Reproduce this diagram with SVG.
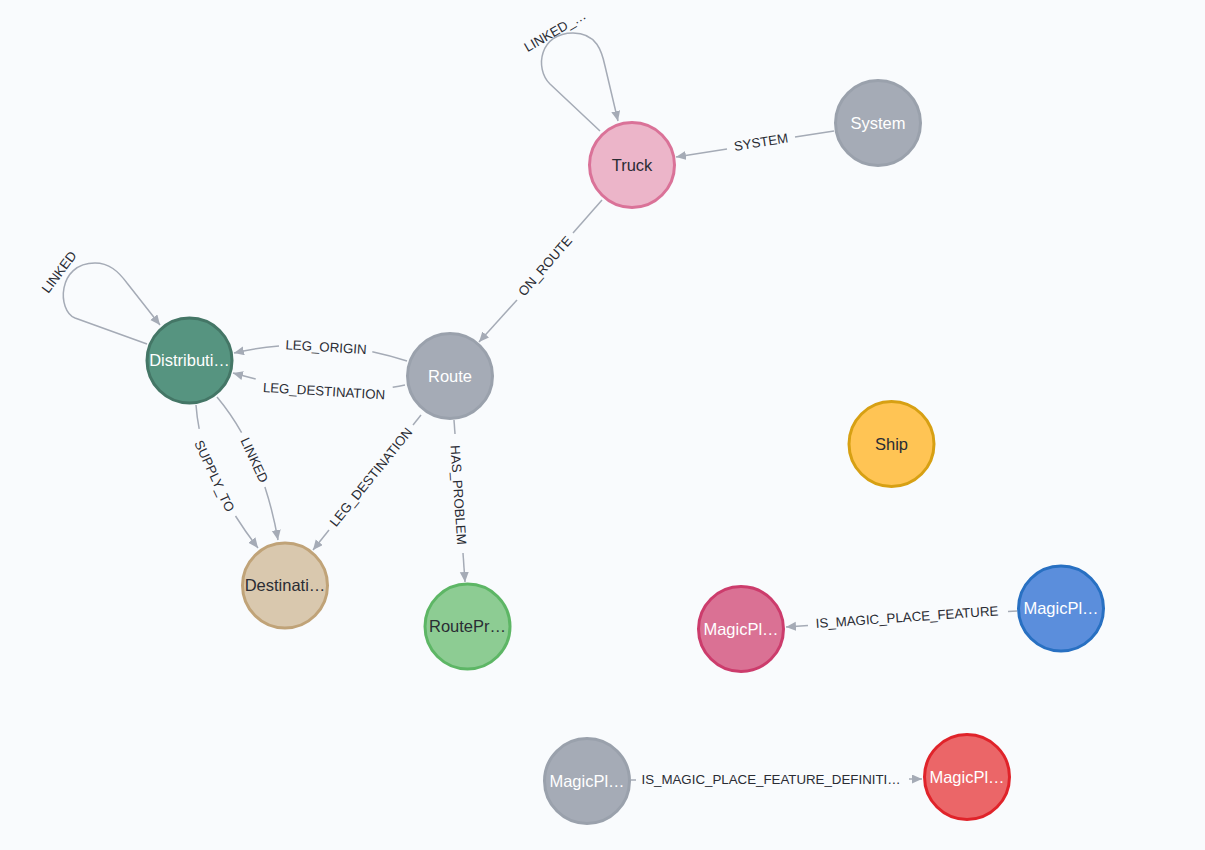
<svg xmlns="http://www.w3.org/2000/svg" width="1205" height="850" viewBox="0 0 1205 850">
<style>
.edge{fill:none;stroke:#A5ABB6;stroke-width:1.5}
.arr{marker-end:url(#ah)}
.el{font-family:"Liberation Sans",Arial,sans-serif;font-size:13.3px;fill:#2A2C34;text-anchor:middle}
.nl{font-family:"Liberation Sans",Arial,sans-serif;font-size:16.5px;text-anchor:middle}
.dark{fill:#2A2C34}
.light{fill:#FFFFFF}
.node circle{stroke-width:3}
</style>
<defs>
<marker id="ah" markerUnits="userSpaceOnUse" markerWidth="11" markerHeight="10" refX="10" refY="4.5" orient="auto" viewBox="0 0 11 10">
<path d="M0,0 L10,4.5 L0,9 Z" fill="#A5ABB6"/>
</marker>
</defs>
<rect width="1205" height="850" fill="#F9FBFD"/>
<g id="connectors">
<!-- Truck self loop -->
<path class="edge arr" d="M600,131 L550,84 C534,68 540,33 573,33 C597,33 602,52 605,66 L618,121"/>
<text class="el" transform="translate(555,31) rotate(-30)" dy="0.35em">LINKED_…</text>
<!-- Distribution self loop -->
<path class="edge arr" d="M147,344 L75,318 C57,311 57,263 95,263 C109,263 118,271 127,283 L160,325"/>
<text class="el" transform="translate(59,272) rotate(-53)" dy="0.35em">LINKED</text>
<!-- System -> Truck -->
<path class="edge" d="M834,131 L795,137"/>
<path class="edge arr" d="M727,149 L676,157"/>
<text class="el" transform="translate(761,142) rotate(-9)" dy="0.35em">SYSTEM</text>
<!-- Truck -> Route -->
<path class="edge" d="M602,200 L573,233"/>
<path class="edge arr" d="M517,300 L479,342"/>
<text class="el" transform="translate(545,266) rotate(-49)" dy="0.35em">ON_ROUTE</text>
<!-- Route -> Distribution LEG_ORIGIN -->
<path class="edge" d="M407,361 Q389.6,355.4 372.3,351.7"/>
<path class="edge arr" d="M279,346 Q256,348 234,353"/>
<text class="el" transform="translate(326,347) rotate(3.5)" dy="0.35em">LEG_ORIGIN</text>
<!-- Route -> Distribution LEG_DESTINATION -->
<path class="edge" d="M405,385 Q398.9,386.2 392.7,387.2"/>
<path class="edge arr" d="M255.7,378.9 Q244.5,376.2 233,373"/>
<text class="el" transform="translate(324,391) rotate(3.5)" dy="0.35em">LEG_DESTINATION</text>
<!-- Distribution -> Destination SUPPLY_TO -->
<path class="edge" d="M196,405 Q196.85,416.9 199.2,428.8"/>
<path class="edge arr" d="M235.5,516 Q245.5,531.9 258,548"/>
<text class="el" transform="translate(214.5,476) rotate(65)" dy="0.35em">SUPPLY_TO</text>
<!-- Distribution -> Destination LINKED -->
<path class="edge" d="M217,397 Q230.7,413.4 241.6,432.7"/>
<path class="edge arr" d="M264.9,486.9 Q273,511.7 278,540"/>
<text class="el" transform="translate(254.5,460) rotate(65)" dy="0.35em">LINKED</text>
<!-- Route -> Destination LEG_DESTINATION -->
<path class="edge" d="M421,415 L413,425"/>
<path class="edge arr" d="M329,530 L313,550"/>
<text class="el" transform="translate(371,477) rotate(-51)" dy="0.35em">LEG_DESTINATION</text>
<!-- Route -> RouteProblem HAS_PROBLEM -->
<path class="edge" d="M454,420 L455,434"/>
<path class="edge arr" d="M463,553 L465,582"/>
<text class="el" transform="translate(458.5,495) rotate(86)" dy="0.35em">HAS_PROBLEM</text>
<!-- Blue Magic -> Pink Magic -->
<path class="edge" d="M1017,611 L1008,611.6"/>
<path class="edge arr" d="M808,625.5 L786,627"/>
<text class="el" transform="translate(907,617) rotate(-4)" dy="0.35em">IS_MAGIC_PLACE_FEATURE</text>
<!-- Gray Magic -> Red Magic -->
<path class="edge" d="M631,780 L636,780"/>
<path class="edge arr" d="M909,779 L922,779"/>
<text class="el" transform="translate(771,779)" dy="0.35em">IS_MAGIC_PLACE_FEATURE_DEFINITI…</text>
</g>
<g id="node-truck" class="node"><circle cx="632" cy="165" r="42.5" fill="#ECB5C9" stroke="#DA7298"/><text class="nl dark" x="632" y="165" dy="0.35em">Truck</text></g>
<g id="node-system" class="node"><circle cx="878" cy="123" r="42.5" fill="#A5ABB6" stroke="#9AA1AC"/><text class="nl light" x="878" y="123" dy="0.35em">System</text></g>
<g id="node-route" class="node"><circle cx="450" cy="376" r="42.5" fill="#A5ABB6" stroke="#9AA1AC"/><text class="nl light" x="450" y="376" dy="0.35em">Route</text></g>
<g id="node-distribution" class="node"><circle cx="189.5" cy="360.5" r="42.5" fill="#569480" stroke="#447666"/><text class="nl light" x="189.5" y="360.5" dy="0.35em">Distributi…</text></g>
<g id="node-destination" class="node"><circle cx="285" cy="585.5" r="42.5" fill="#D9C8AE" stroke="#C0A378"/><text class="nl dark" x="285" y="585.5" dy="0.35em">Destinati…</text></g>
<g id="node-routeproblem" class="node"><circle cx="467.5" cy="626.5" r="42.5" fill="#8DCC93" stroke="#5DB665"/><text class="nl dark" x="467.5" y="626.5" dy="0.35em">RoutePr…</text></g>
<g id="node-ship" class="node"><circle cx="891.5" cy="444" r="42.5" fill="#FFC454" stroke="#D7A013"/><text class="nl dark" x="891.5" y="444" dy="0.35em">Ship</text></g>
<g id="node-magic-pink" class="node"><circle cx="741" cy="629" r="42.5" fill="#DA7194" stroke="#CC3C6C"/><text class="nl light" x="741" y="629" dy="0.35em">MagicPl…</text></g>
<g id="node-magic-blue" class="node"><circle cx="1061" cy="608.5" r="42.5" fill="#5B8EDC" stroke="#2870C2"/><text class="nl light" x="1061" y="608.5" dy="0.35em">MagicPl…</text></g>
<g id="node-magic-gray" class="node"><circle cx="587" cy="781" r="42.5" fill="#A5ABB6" stroke="#9AA1AC"/><text class="nl light" x="587" y="781" dy="0.35em">MagicPl…</text></g>
<g id="node-magic-red" class="node"><circle cx="967" cy="777" r="42.5" fill="#EB6668" stroke="#E0232A"/><text class="nl light" x="967" y="777" dy="0.35em">MagicPl…</text></g>
</svg>
